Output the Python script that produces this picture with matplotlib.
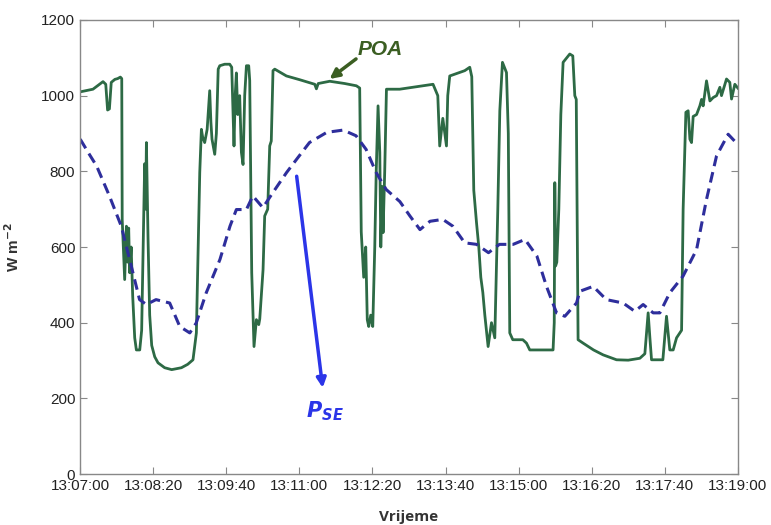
import matplotlib.pyplot as plt

# seconds after 13:07:00
poa_t = [0, 14, 25, 28, 30, 32, 34, 38, 41, 44, 45.5, 46, 48.7, 50.6, 52, 53.1, 54.2, 55.8, 57.5, 59.7,
         61.5, 65.2, 67.3, 69, 70.6, 71.7, 72.5, 73.4, 74.3, 76.1, 78.3, 81.6, 85.2, 92.5, 100.2, 110.8,
         117.7, 123.5, 127.2, 129.2, 130.9, 132.7, 134.1, 136.3, 139, 141.8, 143.1, 144.3, 147.3, 149.1,
         151.1, 152.8, 158.2, 163.7, 165.9, 168.4, 169.7, 171, 172.5, 174.6, 176.5, 178.3, 180.1, 182,
         184.5, 185.6, 187.8, 190.3, 192.9, 195.5, 196.6, 200.2, 202, 205.3, 207.5, 209.2, 211.1, 213,
         225.8, 240.4, 256.8, 258.6, 260.6, 273.2, 289.6, 302.4, 306, 307.7, 310.4, 312.6, 314.3, 315.9,
         318.1, 320.3, 322.5, 324.1, 326.1, 328, 329.1, 330.7, 331.6, 333.4, 335.3, 349.8, 386.3, 391.5,
         393.6, 397, 401, 402.4, 404.6, 421, 426.5, 428.7, 430.9, 433.9, 436.4, 438.6, 440.8, 443, 446.6,
         450.3, 453.9, 457.2, 459.4, 462.3, 466.7, 468.7, 470.3, 473.6, 484.6, 488.6, 492.2, 517.7, 519,
         519.6, 520.5, 521.8, 524, 526.2, 528.7, 536, 539.3, 541.5, 543.1, 545.1, 550.6, 562, 572.5, 587.2,
         600, 612.7, 618.2, 621.8, 623.7, 625.5, 637.9, 641.9, 645.5, 649.2, 652.9, 656.5, 658.4, 660.1, 663.1,
         665.6, 667.5, 669.3, 671.1, 674.8, 678.4, 680.3, 682, 685.7, 689.4, 693, 696.7, 700.3, 702.1,
         707.6, 711.2, 713.1, 716.7, 720]
poa_v = [1010, 1017, 1037, 1030, 962, 965, 1035, 1043, 1045, 1049, 1045, 673, 514, 655, 560, 650, 532, 600, 470, 360,
         328, 328, 380, 600, 820, 700, 876, 750, 620, 420, 340, 310, 294, 281, 276, 281,
         290, 302, 373, 600, 797, 911, 890, 876, 911, 1013, 930, 885, 845, 900,
         1070, 1079, 1083, 1083, 1075, 867, 1000, 1060, 950, 1000, 850, 818, 1000, 1079,
         1079, 1040, 532, 337, 408, 395, 410, 540, 682, 700, 867, 880, 1066, 1070,
         1052, 1042, 1030, 1018, 1032, 1038, 1032, 1026, 1020, 640, 520, 600, 408, 390,
         420, 390, 600, 800, 973, 850, 600, 760, 638, 800, 1017, 1017, 1030, 1000,
         867, 940, 867, 1000, 1052, 1066, 1075, 1050, 750, 664, 600, 520, 480, 420, 337,
         400, 360, 700, 960, 1088, 1061, 900, 373, 355, 355, 346, 328, 328, 400,
         770, 550, 560, 700, 950, 1088, 1110, 1105, 1000, 990, 355, 346, 328, 315, 302,
         301, 306, 318, 426, 360, 302, 302, 417, 328, 328, 360, 373, 380, 700, 956,
         960, 885, 876, 945, 950, 973, 990, 973, 1039, 986, 995, 1000, 1022, 1000,
         1044, 1035, 991, 1030, 1020]

pse_t = [0, 10, 18, 32, 45, 56, 65, 72.5, 83, 98, 109, 120, 127, 138, 153, 164, 171, 182, 189,
         200, 211, 226, 237, 251, 270, 288, 302, 313, 324, 335, 350, 361, 372, 383, 397, 408, 421,
         434, 447, 459, 474, 487, 500, 510.5, 521.5, 530.6, 543.4, 547, 561.6, 576, 594.4, 607.2,
         616.3, 627.3, 634.6, 645.5, 660, 674.8, 685.7, 696.7, 709.4, 718]
pse_v = [885, 845, 814, 735, 655, 549, 461, 448, 461, 452, 390, 373, 399, 479, 567, 655, 699, 699, 735,
         704, 744, 797, 832, 876, 903, 909, 894, 858, 797, 752, 720, 682, 646, 668, 673, 655, 611,
         607, 585, 607, 607, 620, 576, 496, 426, 417, 452, 483, 496, 461, 452, 430,
         448, 426, 426, 479, 523, 593, 726, 841, 898, 876]

tick_labels = ['13:07:00', '13:08:20', '13:09:40', '13:11:00', '13:12:20', '13:13:40',
               '13:15:00', '13:16:20', '13:17:40', '13:19:00']

plt.rcParams['font.family'] = ['Liberation Sans', 'DejaVu Sans']

fig = plt.figure(figsize=(7.71, 5.25), dpi=100)
ax = fig.add_axes([0.104, 0.097, 0.853, 0.865])

ax.plot(poa_t, poa_v, color='#2d6a45', lw=2)
ax.plot(pse_t, pse_v, color='#2e2e9c', lw=2.2, ls=(0, (3.5, 2)))

ax.set_xlim(0, 720)
ax.set_ylim(0, 1200)
ax.set_xticks([80 * i for i in range(len(tick_labels))])
ax.set_xticklabels(tick_labels)
ax.set_yticks(range(0, 1201, 200))

ax.tick_params(direction='in', top=True, right=True, labelsize=11, colors='#222222',
               length=5, width=0.8)
for sp in ax.spines.values():
    sp.set_color('#888888')
    sp.set_linewidth(1)
ax.tick_params(color='#888888')

ax.set_xlabel('Vrijeme', fontsize=11, fontweight='bold', color='#333333',
              family=['Open Sans', 'DejaVu Sans'], labelpad=12)
ax.set_ylabel(r'W m$^{\mathbf{-2}}$', fontsize=11, fontweight='bold', color='#333333', labelpad=14)

# annotations
ax.annotate('', xy=(273, 1044), xytext=(302, 1097),
            arrowprops=dict(arrowstyle='-|>', color='#3b5e22', lw=2.5, mutation_scale=14,
                            shrinkA=0, shrinkB=0))
ax.text(328, 1122, 'POA', ha='center', va='center',
        fontsize=15, fontweight='bold', fontstyle='italic', color='#3b5e22')
ax.annotate('', xy=(265.5, 228), xytext=(237, 787),
            arrowprops=dict(arrowstyle='-|>', color='#2b35e8', lw=2.5, mutation_scale=14,
                            shrinkA=0, shrinkB=0))
ax.text(268, 165, r'$\mathbfit{P}_{\mathbfit{SE}}$', ha='center', va='center',
        fontsize=15, color='#2b35e8')

fig.savefig('out.png', dpi=100)
